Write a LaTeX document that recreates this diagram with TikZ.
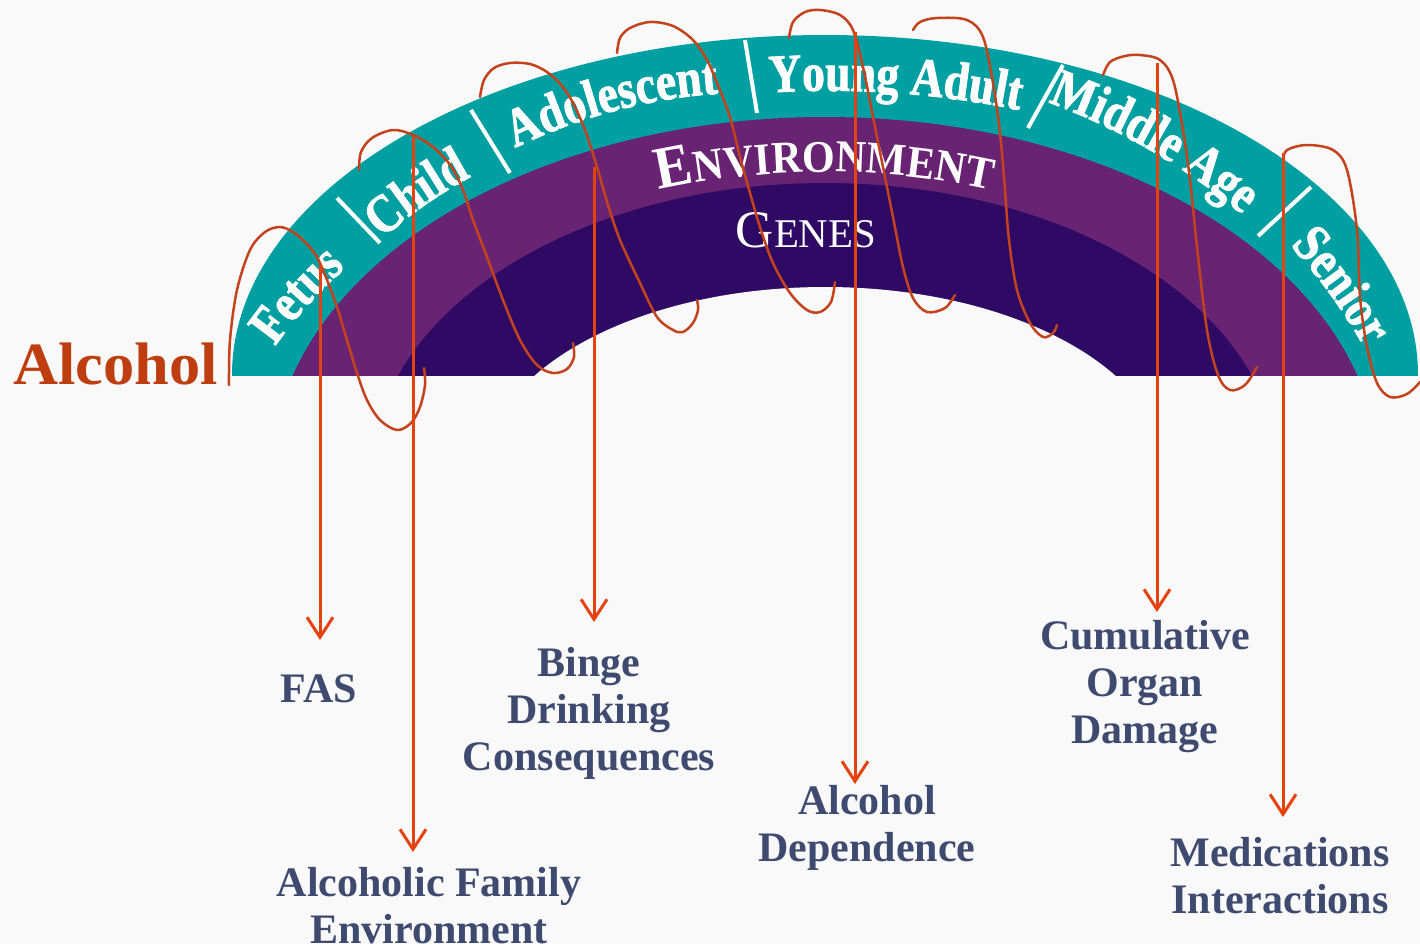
\documentclass[tikz,border=0pt]{standalone}
\usepackage{fontspec}
\setmainfont{Liberation Serif}
\newfontfamily\bandfont[FakeStretch=0.84,FakeBold=1.6]{Liberation Serif}
\newfontfamily\envfont[FakeStretch=0.93]{Liberation Serif}
\newfontfamily\titlefont[FakeStretch=1.04]{Liberation Serif}
\usetikzlibrary{calc,arrows.meta,decorations.text}

\definecolor{paper}{RGB}{249,249,249}
\definecolor{lifeteal}{RGB}{0,160,162}
\definecolor{envpurple}{RGB}{104,36,114}
\definecolor{genepurple}{RGB}{46,10,100}
\definecolor{coilred}{RGB}{196,66,28}
\definecolor{arrowred}{RGB}{228,66,14}
\definecolor{outcomeblue}{RGB}{62,74,112}
\definecolor{alcoholred}{RGB}{190,62,16}

\newcommand\agefmt{\bandfont\bfseries\fontsize{27}{27}\selectfont}
\newcommand\envbig{\envfont\bfseries\fontsize{30}{30}\selectfont}
\newcommand\envsmall{\envfont\bfseries\fontsize{22.7}{22.7}\selectfont}
\newcommand\genebig{\fontsize{26.4}{26.4}\selectfont}
\newcommand\genesmall{\fontsize{20.4}{20.4}\selectfont}

% curved white caption: mid point, reading angle, radius, half span, text
\newcommand\bandtext[5]{%
  \path[decorate,decoration={text along path,text align=center,text color=white,text={#5}}]
    ($#1+({#2-90}:#3)+({#2+90+#4}:#3)$)
    arc[start angle={#2+90+#4},end angle={#2+90-#4},radius=#3];}

\tikzset{
  outcome/.style={font=\bfseries\fontsize{21}{23.5}\selectfont,text=outcomeblue,
    align=center,anchor=north,inner sep=0pt},
  effect/.style={draw=arrowred,line width=1.5pt,-{Straight Barb[length=10pt,width=13pt]}},
  coil/.style={draw=coilred,line width=1.25pt,line cap=round,line join=round},
  divider/.style={draw=white,line width=2pt},
}

\begin{document}
\begin{tikzpicture}[x=0.5pt,y=0.5pt]
\fill[paper] (0,0) rectangle (1420,-944);
\useasboundingbox (0,0) rectangle (1420,-944);

% the arch: life stages, environment, genes
\begin{scope}
  \clip (0,-375) rectangle (1420,0);
  \fill[lifeteal] (825,-375) ellipse[x radius=593,y radius=340];
  \fill[envpurple] (825,-475) ellipse[x radius=554,y radius=358];
  \fill[genepurple] (825,-475) ellipse[x radius=454,y radius=292];
  \fill[paper] (825,-475) ellipse[x radius=342,y radius=188];
\end{scope}

% stage separators
\draw[divider] (337,-198) -- (380,-243);
\draw[divider] (471,-110) -- (510,-173);
\draw[divider] (745,-40) -- (757,-113);
\draw[divider] (1063,-65) -- (1028,-128);
\draw[divider] (1311,-187) -- (1258,-236);

% stage names
\bandtext{(308,-305)}{48}{450}{25}{|\agefmt|Fetus}
\bandtext{(425,-205)}{35}{450}{25}{|\agefmt|Child}
\bandtext{(614,-111)}{15}{550}{25}{|\agefmt|Adolescent}
\bandtext{(895,-93)}{-4}{950}{15}{|\agefmt|Young Adult}
\bandtext{(1150,-150)}{-30}{650}{22}{|\agefmt|Middle Age}
\bandtext{(1330,-294)}{-54}{550}{25}{|\agefmt|Senior}

\bandtext{(825,-172)}{0}{776}{20}{|\envbig|E|\envsmall|NVIRONMENT}
\node[text=white,inner sep=0pt,anchor=base] (genes) at (806,-247) {\genebig G\genesmall ENES};

% the coiled path of drinking through life
\draw[coil] plot[smooth,tension=0.55] coordinates {(229,-385) (230,-340) (237,-290) (250,-250) (265,-232) (280,-227) (293,-232) (305,-242) (317,-257) (327,-280) (337,-307) (347,-340) (357,-373) (367,-400) (380,-420) (397,-430) (411,-423) (420,-407) (425,-385) (424,-368)};
\draw[coil] plot[smooth,tension=0.55] coordinates {(359,-170) (361,-152) (372,-138) (393,-130) (413,-135) (433,-147) (451,-166) (463,-190) (473,-220) (487,-257) (503,-300) (520,-340) (537,-365) (553,-373) (567,-369) (574,-357) (573,-343)};
\draw[coil] plot[smooth,tension=0.55] coordinates {(480,-97) (484,-80) (494,-68) (510,-63) (530,-64) (547,-72) (562,-86) (573,-103) (585,-130) (597,-167) (608,-205) (620,-240) (640,-283) (657,-317) (673,-330) (683,-332) (693,-323) (698,-310) (697,-300)};
\draw[coil] plot[smooth,tension=0.55] coordinates {(617,-53) (620,-38) (630,-28) (650,-22) (673,-26) (693,-40) (707,-60) (717,-83) (730,-117) (740,-157) (750,-193) (760,-227) (773,-263) (790,-293) (807,-310) (820,-312) (831,-302) (835,-282)};
\draw[coil] plot[smooth,tension=0.55] coordinates {(789,-38) (793,-22) (805,-12) (820,-10) (840,-15) (853,-30) (863,-67) (873,-117) (883,-167) (893,-217) (903,-267) (913,-298) (927,-312) (945,-308) (955,-295)};
\draw[coil] plot[smooth,tension=0.55] coordinates {(913,-30) (920,-22) (937,-18) (967,-20) (983,-37) (993,-83) (1000,-133) (1005,-190) (1009,-240) (1017,-290) (1030,-323) (1043,-337) (1053,-333) (1057,-325)};
\draw[coil] plot[smooth,tension=0.55] coordinates {(1103,-75) (1110,-62) (1125,-56) (1140,-55) (1160,-60) (1173,-80) (1183,-130) (1190,-180) (1197,-247) (1207,-330) (1218,-375) (1230,-390) (1245,-385) (1257,-367)};
\draw[coil] plot[smooth,tension=0.55] coordinates {(1283,-160) (1287,-150) (1307,-145) (1333,-150) (1347,-170) (1357,-230) (1360,-297) (1367,-347) (1377,-383) (1390,-397) (1407,-394) (1420,-382)};

% consequences
\node[outcome] (fas) at (319,-674) {FAS};
\node[outcome] (family) at (429,-867) {Alcoholic Family\\Environment};
\node[outcome] (binge) at (589,-647) {Binge\\Drinking\\Consequences};
\node[outcome] (dependence) at (867,-785) {Alcohol\\Dependence};
\node[outcome] (organ) at (1145,-620) {Cumulative\\Organ\\Damage};
\node[outcome] (medication) at (1280,-837) {Medications\\Interactions};

\coordinate (fetusFrom) at (320,-265);
\coordinate (fetusTo) at (320,-640);
\coordinate (childFrom) at (413,-137);
\coordinate (childTo) at (413,-852);
\coordinate (teenFrom) at (594,-167);
\coordinate (teenTo) at (594,-622);
\coordinate (youngFrom) at (855,-32);
\coordinate (youngTo) at (855,-784);
\coordinate (middleFrom) at (1157,-63);
\coordinate (middleTo) at (1157,-612);
\coordinate (seniorFrom) at (1283,-153);
\coordinate (seniorTo) at (1283,-817);

\draw[effect] (fetusFrom) -- (fetusTo);
\draw[effect] (childFrom) -- (childTo);
\draw[effect] (teenFrom) -- (teenTo);
\draw[effect] (youngFrom) -- (youngTo);
\draw[effect] (middleFrom) -- (middleTo);
\draw[effect] (seniorFrom) -- (seniorTo);

\node[text=alcoholred,font=\titlefont\bfseries\fontsize{30}{30}\selectfont,inner sep=0pt,anchor=base west] (alcohol) at (13,-384) {Alcohol};
\end{tikzpicture}
\end{document}
